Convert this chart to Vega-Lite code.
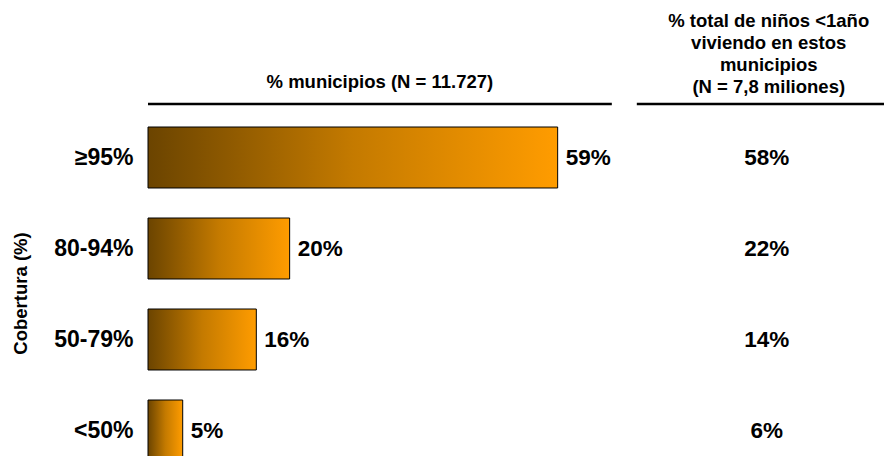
{
  "$schema": "https://vega.github.io/schema/vega-lite/v6.json",
  "width": 736,
  "height": 455,
  "autosize": {"type": "none"},
  "padding": {"left": 148, "top": 21, "right": 0, "bottom": 0},
  "background": "white",
  "config": {
    "view": {"stroke": null},
    "font": "Liberation Sans",
    "text": {"font": "Liberation Sans", "fontWeight": "bold"}
  },
  "datasets": {
    "rows": [
      {"cobertura": "≥95%", "municipios": 59.0, "municipios_label": "59%", "ninos_label": "58%"},
      {"cobertura": "80-94%", "municipios": 20.4, "municipios_label": "20%", "ninos_label": "22%"},
      {"cobertura": "50-79%", "municipios": 15.6, "municipios_label": "16%", "ninos_label": "14%"},
      {"cobertura": "<50%", "municipios": 5.0, "municipios_label": "5%", "ninos_label": "6%"}
    ],
    "headers": [
      {"cobertura": "hdr", "from": 0, "to": 66.8, "center": 33.4, "label": "% municipios (N = 11.727)"},
      {"cobertura": "hdr", "from": 70.4, "to": 106, "center": 89.4, "label": "% total de niños <1año|viviendo en estos|municipios|(N = 7,8 miliones)"}
    ]
  },
  "encoding": {
    "y": {
      "field": "cobertura",
      "type": "nominal",
      "sort": null,
      "scale": {"domain": ["hdr", "≥95%", "80-94%", "50-79%", "<50%"], "paddingInner": 0.33, "paddingOuter": 0.165},
      "axis": {
        "title": "Cobertura (%)",
        "titleFontSize": 18.5,
        "titleFont": "Liberation Sans",
        "titleFontWeight": "bold",
        "titleColor": "black",
        "titleX": -128,
        "titleY": 272,
        "titleAngle": -90,
        "titleBaseline": "middle",
        "labelExpr": "datum.label == 'hdr' ? '' : datum.label",
        "labelFont": "Liberation Sans",
        "labelFontWeight": "bold",
        "labelFontSize": 23,
        "labelColor": "black",
        "labelPadding": 15,
        "ticks": false,
        "domain": false,
        "grid": false
      }
    }
  },
  "layer": [
    {
      "data": {"name": "rows"},
      "mark": {
        "type": "bar",
        "stroke": "black",
        "strokeWidth": 1,
        "color": {
          "gradient": "linear",
          "x1": 0, "y1": 0, "x2": 1, "y2": 0,
          "stops": [
            {"offset": 0, "color": "#6b4400"},
            {"offset": 0.5, "color": "#c47a00"},
            {"offset": 1, "color": "#ff9c00"}
          ]
        }
      },
      "encoding": {
        "x": {"field": "municipios", "type": "quantitative", "scale": {"domain": [0, 106], "nice": false, "zero": true}, "axis": null}
      }
    },
    {
      "data": {"name": "rows"},
      "mark": {"type": "text", "align": "left", "baseline": "middle", "dx": 8, "fontSize": 22.5, "color": "black"},
      "encoding": {
        "x": {"field": "municipios", "type": "quantitative"},
        "text": {"field": "municipios_label", "type": "nominal"}
      }
    },
    {
      "data": {"name": "rows"},
      "mark": {"type": "text", "align": "center", "baseline": "middle", "fontSize": 22.5, "color": "black"},
      "encoding": {
        "x": {"datum": 89.1, "type": "quantitative"},
        "text": {"field": "ninos_label", "type": "nominal"}
      }
    },
    {
      "data": {"name": "headers"},
      "mark": {"type": "rule", "strokeWidth": 2.5, "color": "black", "yOffset": 37.5},
      "encoding": {
        "x": {"field": "from", "type": "quantitative"},
        "x2": {"field": "to"}
      }
    },
    {
      "data": {"name": "headers"},
      "mark": {"type": "text", "align": "center", "baseline": "middle", "fontSize": 18.5, "color": "black", "yOffset": 15.5},
      "transform": [{"filter": "datum.from == 0"}],
      "encoding": {
        "x": {"field": "center", "type": "quantitative"},
        "text": {"field": "label"}
      }
    },
    {
      "data": {"name": "headers"},
      "mark": {"type": "text", "align": "center", "baseline": "middle", "fontSize": 18.5, "lineHeight": 22, "color": "black", "lineBreak": "|", "yOffset": -45.5},
      "transform": [{"filter": "datum.from > 0"}],
      "encoding": {
        "x": {"field": "center", "type": "quantitative"},
        "text": {"field": "label"}
      }
    }
  ]
}
